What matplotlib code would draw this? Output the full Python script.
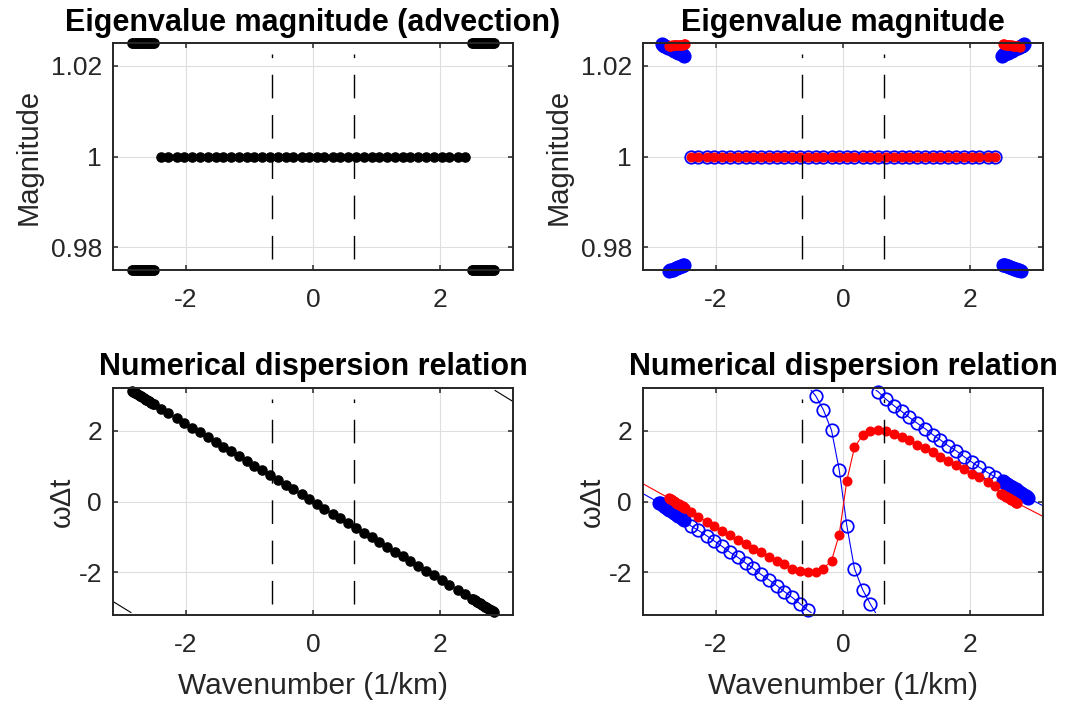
import numpy as np
import matplotlib
matplotlib.use('Agg')
import matplotlib.pyplot as plt

plt.rcParams['font.family'] = ['Liberation Sans', 'DejaVu Sans']

nan = np.nan

# wavenumber grid of the regular markers (1/km)
k_grid = [-2.39, -2.27, -2.14, -2.02, -1.90, -1.78, -1.65, -1.53, -1.41, -1.29,
          -1.16, -1.04, -0.92, -0.80, -0.67, -0.55, -0.43, -0.31, -0.18, -0.06,
          0.06, 0.18, 0.31, 0.43, 0.55, 0.67, 0.80, 0.92, 1.04, 1.16,
          1.29, 1.41, 1.53, 1.65, 1.78, 1.90, 2.02, 2.14, 2.27, 2.39]
mag_grid = [1.0] * 40

# ---- advection only (black) ----
k_adv_left = [-2.84, -2.82, -2.80, -2.78, -2.76, -2.74, -2.72, -2.70, -2.68,
              -2.66, -2.64, -2.62, -2.60, -2.58, -2.56, -2.54, -2.52, -2.50]
k_adv_right = [2.50, 2.52, 2.54, 2.56, 2.58, 2.60, 2.62, 2.64, 2.66,
               2.68, 2.70, 2.72, 2.74, 2.76, 2.78, 2.80, 2.82, 2.84]
w_adv_left = [3.12, 3.10, 3.08, 3.06, 3.04, 3.01, 2.99, 2.97, 2.95,
              2.93, 2.90, 2.88, 2.86, 2.84, 2.82, 2.79, 2.77, 2.75]
w_adv_grid = [2.63, 2.50, 2.35, 2.22, 2.09, 1.96, 1.82, 1.68, 1.55, 1.42,
              1.28, 1.14, 1.01, 0.88, 0.74, 0.61, 0.47, 0.34, 0.20, 0.07,
              -0.07, -0.20, -0.34, -0.47, -0.61, -0.74, -0.88, -1.01, -1.14, -1.28,
              -1.42, -1.55, -1.68, -1.82, -1.96, -2.09, -2.22, -2.35, -2.50, -2.63]
w_adv_right = [-2.75, -2.77, -2.79, -2.82, -2.84, -2.86, -2.88, -2.90, -2.93,
               -2.95, -2.97, -2.99, -3.01, -3.04, -3.06, -3.08, -3.10, -3.12]
mag_adv_hi = [1.025] * 18
mag_adv_lo = [0.975] * 18
# continuous (wrapped) curve
k_adv_line = [-3.14, -2.86, nan, -2.86, 2.86, nan, 2.86, 3.14]
w_adv_line = [-2.83, -3.14, nan, 3.14, -3.14, nan, 3.14, 2.83]

# ---- full system: blue branch ----
k_blue_cl_left = [-2.89, -2.87, -2.85, -2.83, -2.81, -2.79, -2.77, -2.75, -2.73, -2.71, -2.69,
                  -2.67, -2.65, -2.63, -2.61, -2.59, -2.57, -2.55, -2.53, -2.51, -2.49]
w_blue_cl_left = [-0.03, -0.05, -0.08, -0.10, -0.13, -0.15, -0.18, -0.20, -0.23, -0.25, -0.28,
                  -0.30, -0.32, -0.35, -0.37, -0.40, -0.42, -0.45, -0.47, -0.50, -0.52]
k_blue_cl_right = [2.51, 2.53, 2.55, 2.57, 2.59, 2.61, 2.63, 2.65, 2.67, 2.69, 2.71,
                   2.73, 2.75, 2.77, 2.79, 2.81, 2.83, 2.85, 2.87, 2.89, 2.91]
w_blue_cl_right = [0.57, 0.55, 0.52, 0.50, 0.48, 0.45, 0.43, 0.41, 0.38, 0.36, 0.34,
                   0.31, 0.29, 0.27, 0.24, 0.22, 0.19, 0.17, 0.15, 0.12, 0.10]
w_blue_grid = [-0.69, -0.82, -0.97, -1.12, -1.27, -1.43, -1.58, -1.74, -1.89, -2.06,
               -2.22, -2.38, -2.55, -2.71, -2.90, -3.08, 2.99, 2.60, 2.01, 0.90,
               -0.68, -1.90, -2.50, -2.90, 3.11, 2.90, 2.71, 2.55, 2.38, 2.22,
               2.06, 1.89, 1.74, 1.58, 1.43, 1.27, 1.12, 0.97, 0.82, 0.69]
# wrap points / ends of the blue curve
k_blue_ends = [-3.14, -0.50, -0.50, 0.51, 0.52, 3.14]
w_blue_ends = [0.22, -3.14, 3.14, -3.14, 3.14, -0.12]

# ---- full system: red branch ----
k_red_cl_left = [-2.74, -2.72, -2.70, -2.68, -2.66, -2.64, -2.62,
                 -2.60, -2.58, -2.56, -2.54, -2.52, -2.50, -2.48]
w_red_cl_left = [0.10, 0.08, 0.06, 0.03, 0.01, -0.01, -0.03,
                 -0.06, -0.08, -0.10, -0.12, -0.14, -0.17, -0.19]
k_red_cl_right = [2.48, 2.50, 2.52, 2.54, 2.56, 2.58, 2.60,
                  2.62, 2.64, 2.66, 2.68, 2.70, 2.72, 2.74]
w_red_cl_right = [0.22, 0.20, 0.18, 0.16, 0.14, 0.12, 0.10,
                  0.07, 0.05, 0.03, 0.01, -0.01, -0.03, -0.05]
w_red_grid = [-0.31, -0.44, -0.57, -0.70, -0.83, -0.96, -1.08, -1.21, -1.33, -1.44,
              -1.56, -1.67, -1.78, -1.90, -1.97, -2.00, -1.98, -1.90, -1.67, -0.94,
              0.59, 1.53, 1.88, 1.98, 2.02, 1.99, 1.92, 1.83, 1.73, 1.61,
              1.50, 1.39, 1.27, 1.15, 1.04, 0.92, 0.79, 0.68, 0.56, 0.44]
k_red_ends = [-3.14, 3.14]
w_red_ends = [0.50, -0.42]

# ---- full system: magnitudes of the clustered eigenvalues ----
k_mb_top_left = [-2.85, -2.83, -2.81, -2.79, -2.77, -2.75, -2.73, -2.71, -2.69, -2.67,
                 -2.65, -2.63, -2.61, -2.59, -2.57, -2.55, -2.53, -2.51, -2.49]
mag_mb_top_left = [1.0247, 1.0246, 1.0244, 1.0243, 1.0242, 1.0240, 1.0239, 1.0238, 1.0236, 1.0235,
                   1.0233, 1.0232, 1.0231, 1.0229, 1.0228, 1.0227, 1.0225, 1.0224, 1.0222]
k_mb_top_right = [2.49, 2.51, 2.53, 2.55, 2.57, 2.59, 2.61, 2.63, 2.65, 2.67,
                  2.69, 2.71, 2.73, 2.75, 2.77, 2.79, 2.81, 2.83, 2.85]
mag_mb_top_right = [1.0222, 1.0224, 1.0225, 1.0227, 1.0228, 1.0229, 1.0231, 1.0232, 1.0233, 1.0235,
                    1.0236, 1.0238, 1.0239, 1.0240, 1.0242, 1.0243, 1.0244, 1.0246, 1.0247]
k_mb_bot_left = [-2.73, -2.71, -2.69, -2.67, -2.65, -2.63, -2.61, -2.59, -2.57, -2.55, -2.53, -2.51, -2.49]
mag_mb_bot_left = [0.9748, 0.9749, 0.9750, 0.9751, 0.9753, 0.9754, 0.9755, 0.9756, 0.9757, 0.9758,
                   0.9759, 0.9761, 0.9762]
k_mb_bot_right = [2.51, 2.53, 2.55, 2.57, 2.59, 2.61, 2.63, 2.65, 2.67, 2.69, 2.71, 2.73, 2.75, 2.77, 2.80]
mag_mb_bot_right = [0.9762, 0.9761, 0.9760, 0.9759, 0.9758, 0.9757, 0.9756, 0.9755, 0.9754, 0.9753,
                    0.9752, 0.9751, 0.9750, 0.9749, 0.9747]
k_mr_top_left = [-2.74, -2.72, -2.70, -2.68, -2.66, -2.64, -2.62, -2.60, -2.58, -2.56, -2.54, -2.52, -2.50, -2.48]
mag_mr_top_left = [1.0244, 1.0244, 1.0244, 1.0245, 1.0245, 1.0245, 1.0245, 1.0245, 1.0246, 1.0246,
                   1.0246, 1.0246, 1.0247, 1.0247]
k_mr_top_right = [2.51, 2.53, 2.55, 2.57, 2.59, 2.61, 2.63, 2.65, 2.67, 2.69, 2.71, 2.73, 2.75, 2.78]
mag_mr_top_right = [1.0247, 1.0247, 1.0246, 1.0246, 1.0246, 1.0245, 1.0245, 1.0245, 1.0244, 1.0244,
                    1.0243, 1.0243, 1.0243, 1.0242]

k_cut = [-0.64, 0.64]

titles = ['Eigenvalue magnitude (advection)', 'Eigenvalue magnitude',
          'Numerical dispersion relation', 'Numerical dispersion relation']

W, H = 1068, 701
fig = plt.figure(figsize=(W / 100, H / 100), dpi=100)
ax1 = fig.add_axes([113 / W, 1 - 270 / H, 400 / W, 227 / H])
ax2 = fig.add_axes([643 / W, 1 - 270 / H, 400 / W, 227 / H])
ax3 = fig.add_axes([113 / W, 1 - 615 / H, 400 / W, 227 / H])
ax4 = fig.add_axes([643 / W, 1 - 615 / H, 400 / W, 227 / H])

mag_lim = (0.975, 1.025)
w_lim = (-3.21, 3.21)

dot = dict(linestyle='none', marker='o', clip_on=False)
blk = dict(dot, color='k', markersize=6.6)
red = dict(dot, color='red', markersize=6.2)
blu = dict(dot, color='blue', markersize=9.0, markerfacecolor='none', markeredgewidth=1.25)
# dense clusters: points overlap into solid strokes
blk_cl = dict(blk, markersize=6.6)
blu_cl = dict(dot, color='blue', markersize=9.2)
red_cl = dict(red, markersize=6.4)

# top left
ax1.plot(k_grid, mag_grid, **blk)
ax1.plot(k_adv_left + [nan] + k_adv_right, mag_adv_hi + [nan] + mag_adv_hi, **blk_cl)
ax1.plot(k_adv_left + [nan] + k_adv_right, mag_adv_lo + [nan] + mag_adv_lo, **blk_cl)

# top right
ax2.plot(k_grid, mag_grid, **blu)
ax2.plot(k_mb_top_left + [nan] + k_mb_top_right, mag_mb_top_left + [nan] + mag_mb_top_right, **blu_cl)
ax2.plot(k_mb_bot_left + [nan] + k_mb_bot_right, mag_mb_bot_left + [nan] + mag_mb_bot_right, **blu_cl)
ax2.plot(k_grid, mag_grid, **red)
ax2.plot(k_mr_top_left + [nan] + k_mr_top_right, mag_mr_top_left + [nan] + mag_mr_top_right, **red_cl)

# bottom left
ax3.plot(k_adv_line, w_adv_line, color='k', lw=0.8)
ax3.plot(k_adv_left + k_grid + k_adv_right, w_adv_left + w_adv_grid + w_adv_right, **blk)

# bottom right: blue curve (wrapped), then red curve
kb = ([k_blue_ends[0]] + k_blue_cl_left + k_grid[:16] + [k_blue_ends[1], nan, k_blue_ends[2]]
      + k_grid[16:24] + [k_blue_ends[3], nan, k_blue_ends[4]] + k_grid[24:] + k_blue_cl_right
      + [k_blue_ends[5]])
wb = ([w_blue_ends[0]] + w_blue_cl_left + w_blue_grid[:16] + [w_blue_ends[1], nan, w_blue_ends[2]]
      + w_blue_grid[16:24] + [w_blue_ends[3], nan, w_blue_ends[4]] + w_blue_grid[24:] + w_blue_cl_right
      + [w_blue_ends[5]])
ax4.plot(kb, wb, color='blue', lw=0.8)
ax4.plot(k_grid, w_blue_grid, **blu)
ax4.plot(k_blue_cl_left + [nan] + k_blue_cl_right, w_blue_cl_left + [nan] + w_blue_cl_right, **blu_cl)
kr = [k_red_ends[0]] + k_red_cl_left + k_grid + k_red_cl_right + [k_red_ends[1]]
wr = [w_red_ends[0]] + w_red_cl_left + w_red_grid + w_red_cl_right + [w_red_ends[1]]
ax4.plot(kr, wr, color='red', lw=0.8)
ax4.plot(k_grid, w_red_grid, **red)
ax4.plot(k_red_cl_left + [nan] + k_red_cl_right, w_red_cl_left + [nan] + w_red_cl_right, **red_cl)

for ax, title in zip([ax1, ax2, ax3, ax4], titles):
    ylo, yhi = (mag_lim if ax in (ax1, ax2) else w_lim)
    yc, yh = (ylo + yhi) / 2, (yhi - ylo) / 2
    for kc in k_cut:
        ax.plot([kc, kc], [yc - 0.9 * yh, yc + 0.9 * yh], color='k', lw=1.0,
                dashes=(17, 12), zorder=5)
    ax.set_xlim(-np.pi, np.pi)
    ax.set_ylim(ylo, yhi)
    ax.set_xticks([-2, 0, 2])
    ax.set_xticklabels(['-2', '0', '2'])
    ax.grid(True, color='#dedede', lw=0.8)
    ax.set_axisbelow(True)
    ax.tick_params(direction='in', length=3.6, width=1.1, top=True, right=True,
                   labelsize=19, colors='#262626', pad=13)
    ax.tick_params(axis='y', pad=8)
    for s in ax.spines.values():
        s.set_linewidth(1.4)
        s.set_color('#262626')
    ax.set_title(title, fontsize=22, fontweight='bold', pad=9)

for ax in (ax1, ax2):
    ax.set_yticks([0.98, 1.0, 1.02])
    ax.set_yticklabels(['0.98', '1', '1.02'])
    ax.set_ylabel('Magnitude', fontsize=21, color='#262626', labelpad=6)
for ax in (ax3, ax4):
    ax.set_yticks([-2, 0, 2])
    ax.set_yticklabels(['-2', '0', '2'])
    ax.set_ylabel('ωΔt', fontsize=21, color='#262626', labelpad=2)
    ax.set_xlabel('Wavenumber (1/km)', fontsize=21.5, color='#262626', labelpad=11)

fig.savefig('out.png', dpi=100)
